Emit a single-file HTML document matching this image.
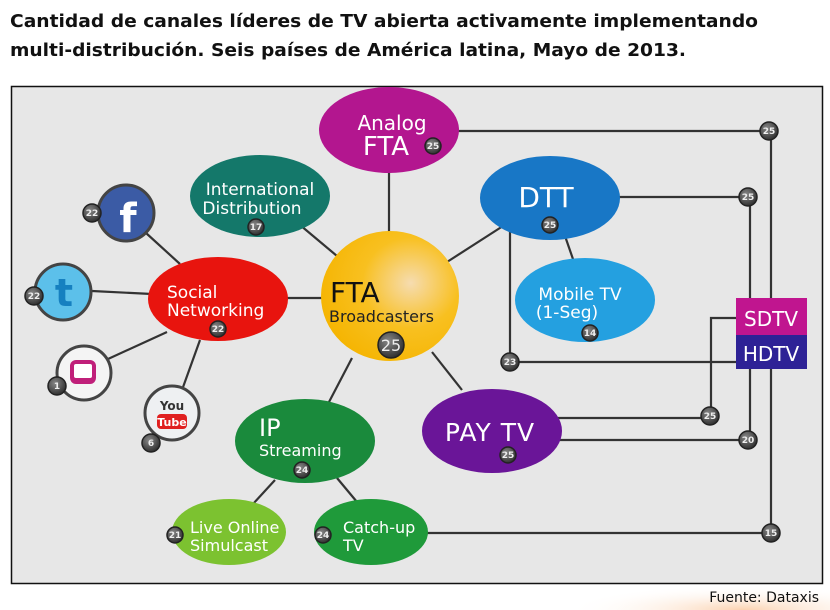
<!DOCTYPE html>
<html><head><meta charset="utf-8"><style>
html,body{margin:0;padding:0;background:#fff;}
svg{display:block;}
text{font-family:"DejaVu Sans","Liberation Sans",sans-serif;}
</style></head><body>
<svg width="830" height="610" viewBox="0 0 830 610" xmlns="http://www.w3.org/2000/svg">
<defs>
<radialGradient id="og" cx="0.75" cy="1" r="0.5"><stop offset="0" stop-color="#fbd2b0"/><stop offset="1" stop-color="#fff" stop-opacity="0"/></radialGradient>
<radialGradient id="bd" cx="0.4" cy="0.35" r="0.7"><stop offset="0" stop-color="#888"/><stop offset="1" stop-color="#2a2a2a"/></radialGradient>
<radialGradient id="fta" cx="0.65" cy="0.4" r="0.7"><stop offset="0" stop-color="#f6dcb0"/><stop offset="0.5" stop-color="#f8c020"/><stop offset="1" stop-color="#f5b400"/></radialGradient>
</defs>
<rect x="0" y="0" width="830" height="610" fill="#fff"/>
<rect x="480" y="560" width="350" height="50" fill="url(#og)"/>
<text x="10" y="27" font-size="18" font-weight="bold" fill="#111" textLength="748" lengthAdjust="spacingAndGlyphs">Cantidad de canales líderes de TV abierta activamente implementando</text>
<text x="10" y="56" font-size="18" font-weight="bold" fill="#111" textLength="676" lengthAdjust="spacingAndGlyphs">multi-distribución. Seis países de América latina, Mayo de 2013.</text>
<rect x="11.5" y="86.5" width="811" height="497" fill="#e7e7e7" stroke="#111" stroke-width="1.5"/>
<text x="819" y="602" font-size="14" fill="#111" text-anchor="end" font-family="Liberation Sans">Fuente: Dataxis</text>

<g stroke="#333" stroke-width="2.2" fill="none">
<line x1="389" y1="170" x2="389" y2="232"/>
<line x1="300" y1="225" x2="337" y2="256"/>
<line x1="447" y1="262" x2="503" y2="226"/>
<line x1="285" y1="298" x2="322" y2="298"/>
<line x1="432" y1="352" x2="462" y2="390"/>
<line x1="352" y1="358" x2="329" y2="402"/>
<line x1="275" y1="480" x2="253" y2="504"/>
<line x1="337" y1="478" x2="357" y2="502"/>
<line x1="565" y1="236" x2="574" y2="262"/>
<line x1="180" y1="264" x2="146" y2="233"/>
<line x1="92" y1="291" x2="152" y2="294"/>
<line x1="108" y1="359" x2="167" y2="332"/>
<line x1="200" y1="340" x2="182" y2="390"/>
<polyline points="455,131 771,131 771,533 420,533"/>
<polyline points="615,197 750,197 750,440 555,440"/>
<polyline points="510,228 510,362 740,362"/>
<polyline points="740,318 711,318 711,418 555,418"/>
</g>

<!-- nodes -->
<ellipse cx="389" cy="130" rx="70" ry="43" fill="#b3168f"/>
<text x="392" y="130" font-size="20" fill="#fff" text-anchor="middle">Analog</text>
<text x="386" y="155" font-size="26" fill="#fff" text-anchor="middle">FTA</text>

<ellipse cx="260" cy="196" rx="70" ry="41" fill="#14786a"/>
<text x="260" y="195" font-size="17" fill="#fff" text-anchor="middle">International</text>
<text x="252" y="214" font-size="17" fill="#fff" text-anchor="middle">Distribution</text>

<ellipse cx="550" cy="198" rx="70" ry="42" fill="#1877c6"/>
<text x="546" y="207" font-size="28" fill="#fff" text-anchor="middle">DTT</text>

<ellipse cx="585" cy="300" rx="70" ry="42" fill="#24a0e0"/>
<text x="580" y="300" font-size="17" fill="#fff" text-anchor="middle">Mobile TV</text>
<text x="567" y="318" font-size="17" fill="#fff" text-anchor="middle">(1-Seg)</text>

<ellipse cx="390" cy="296" rx="69" ry="65" fill="url(#fta)"/>
<text x="330" y="302" font-size="28" fill="#111">FTA</text>
<text x="329" y="322" font-size="16" fill="#222">Broadcasters</text>

<ellipse cx="218" cy="299" rx="70" ry="42" fill="#e8140e"/>
<text x="167" y="298" font-size="17" fill="#fff">Social</text>
<text x="167" y="316" font-size="17" fill="#fff">Networking</text>

<ellipse cx="492" cy="431" rx="70" ry="42" fill="#6a1598"/>
<text x="490" y="441" font-size="25" fill="#fff" text-anchor="middle" letter-spacing="1">PAY TV</text>

<ellipse cx="305" cy="441" rx="70" ry="42" fill="#1a8a3c"/>
<text x="259" y="436" font-size="24" fill="#fff">IP</text>
<text x="259" y="456" font-size="16" fill="#fff">Streaming</text>

<ellipse cx="229" cy="532" rx="57" ry="33" fill="#7cc230"/>
<text x="190" y="533" font-size="16" fill="#fff">Live Online</text>
<text x="190" y="551" font-size="16" fill="#fff">Simulcast</text>

<ellipse cx="371" cy="532" rx="57" ry="33" fill="#1f9a3a"/>
<text x="343" y="533" font-size="16" fill="#fff">Catch-up</text>
<text x="343" y="551" font-size="16" fill="#fff">TV</text>

<!-- SDTV/HDTV -->
<rect x="736" y="298" width="71" height="37" fill="#c0158f"/>
<rect x="736" y="335" width="71" height="34" fill="#2e2296"/>
<text x="771" y="326" font-size="20" fill="#fff" text-anchor="middle">SDTV</text>
<text x="771" y="361" font-size="20" fill="#fff" text-anchor="middle">HDTV</text>

<!-- social icons -->
<g stroke="#444" stroke-width="3">
<circle cx="126" cy="213" r="28" fill="#3b5ba5"/>
<circle cx="63" cy="292" r="28" fill="#5cc0ea"/>
<circle cx="84" cy="373" r="27" fill="#f4f4f4"/>
<circle cx="172" cy="413" r="27" fill="#eef0f2"/>
</g>
<text x="128" y="232" font-size="40" font-weight="bold" fill="#fff" text-anchor="middle">f</text>
<text x="64" y="306" font-size="38" font-weight="bold" fill="#1680c0" text-anchor="middle">t</text>
<rect x="70" y="360" width="26" height="24" rx="6" fill="#c0207a"/>
<rect x="74" y="364" width="18" height="14" rx="2" fill="#fff"/>
<text x="172" y="410" font-size="12" font-weight="bold" fill="#333" text-anchor="middle">You</text>
<rect x="157" y="414" width="30" height="15" rx="4" fill="#e02020"/>
<text x="172" y="426" font-size="11" font-weight="bold" fill="#fff" text-anchor="middle">Tube</text>

<!-- badges -->
<g font-size="9" font-weight="bold" fill="#eee" text-anchor="middle">
<g stroke="#222" stroke-width="1.5" fill="url(#bd)">
<circle cx="92" cy="213" r="9"/><circle cx="34" cy="296" r="9"/><circle cx="57" cy="386" r="9"/><circle cx="151" cy="443" r="9"/>
<circle cx="433" cy="146" r="8"/><circle cx="256" cy="227" r="8"/><circle cx="550" cy="225" r="8"/><circle cx="590" cy="333" r="8"/>
<circle cx="218" cy="329" r="8"/><circle cx="391" cy="345" r="13"/><circle cx="508" cy="455" r="8"/><circle cx="302" cy="470" r="8"/>
<circle cx="175" cy="535" r="8"/><circle cx="323" cy="535" r="8"/>
<circle cx="769" cy="131" r="9"/><circle cx="748" cy="197" r="9"/><circle cx="510" cy="362" r="9"/>
<circle cx="710" cy="416" r="9"/><circle cx="748" cy="440" r="9"/><circle cx="771" cy="533" r="9"/>
</g>
<text x="92" y="216">22</text><text x="34" y="299">22</text><text x="57" y="389">1</text><text x="151" y="446">6</text>
<text x="433" y="149">25</text><text x="256" y="230">17</text><text x="550" y="228">25</text><text x="590" y="336">14</text>
<text x="218" y="332">22</text><text x="391" y="351" font-size="16" font-weight="normal">25</text><text x="508" y="458">25</text><text x="302" y="473">24</text>
<text x="175" y="538">21</text><text x="323" y="538">24</text>
<text x="769" y="134">25</text><text x="748" y="200">25</text><text x="510" y="365">23</text>
<text x="710" y="419">25</text><text x="748" y="443">20</text><text x="771" y="536">15</text>
</g>
</svg>
</body></html>
